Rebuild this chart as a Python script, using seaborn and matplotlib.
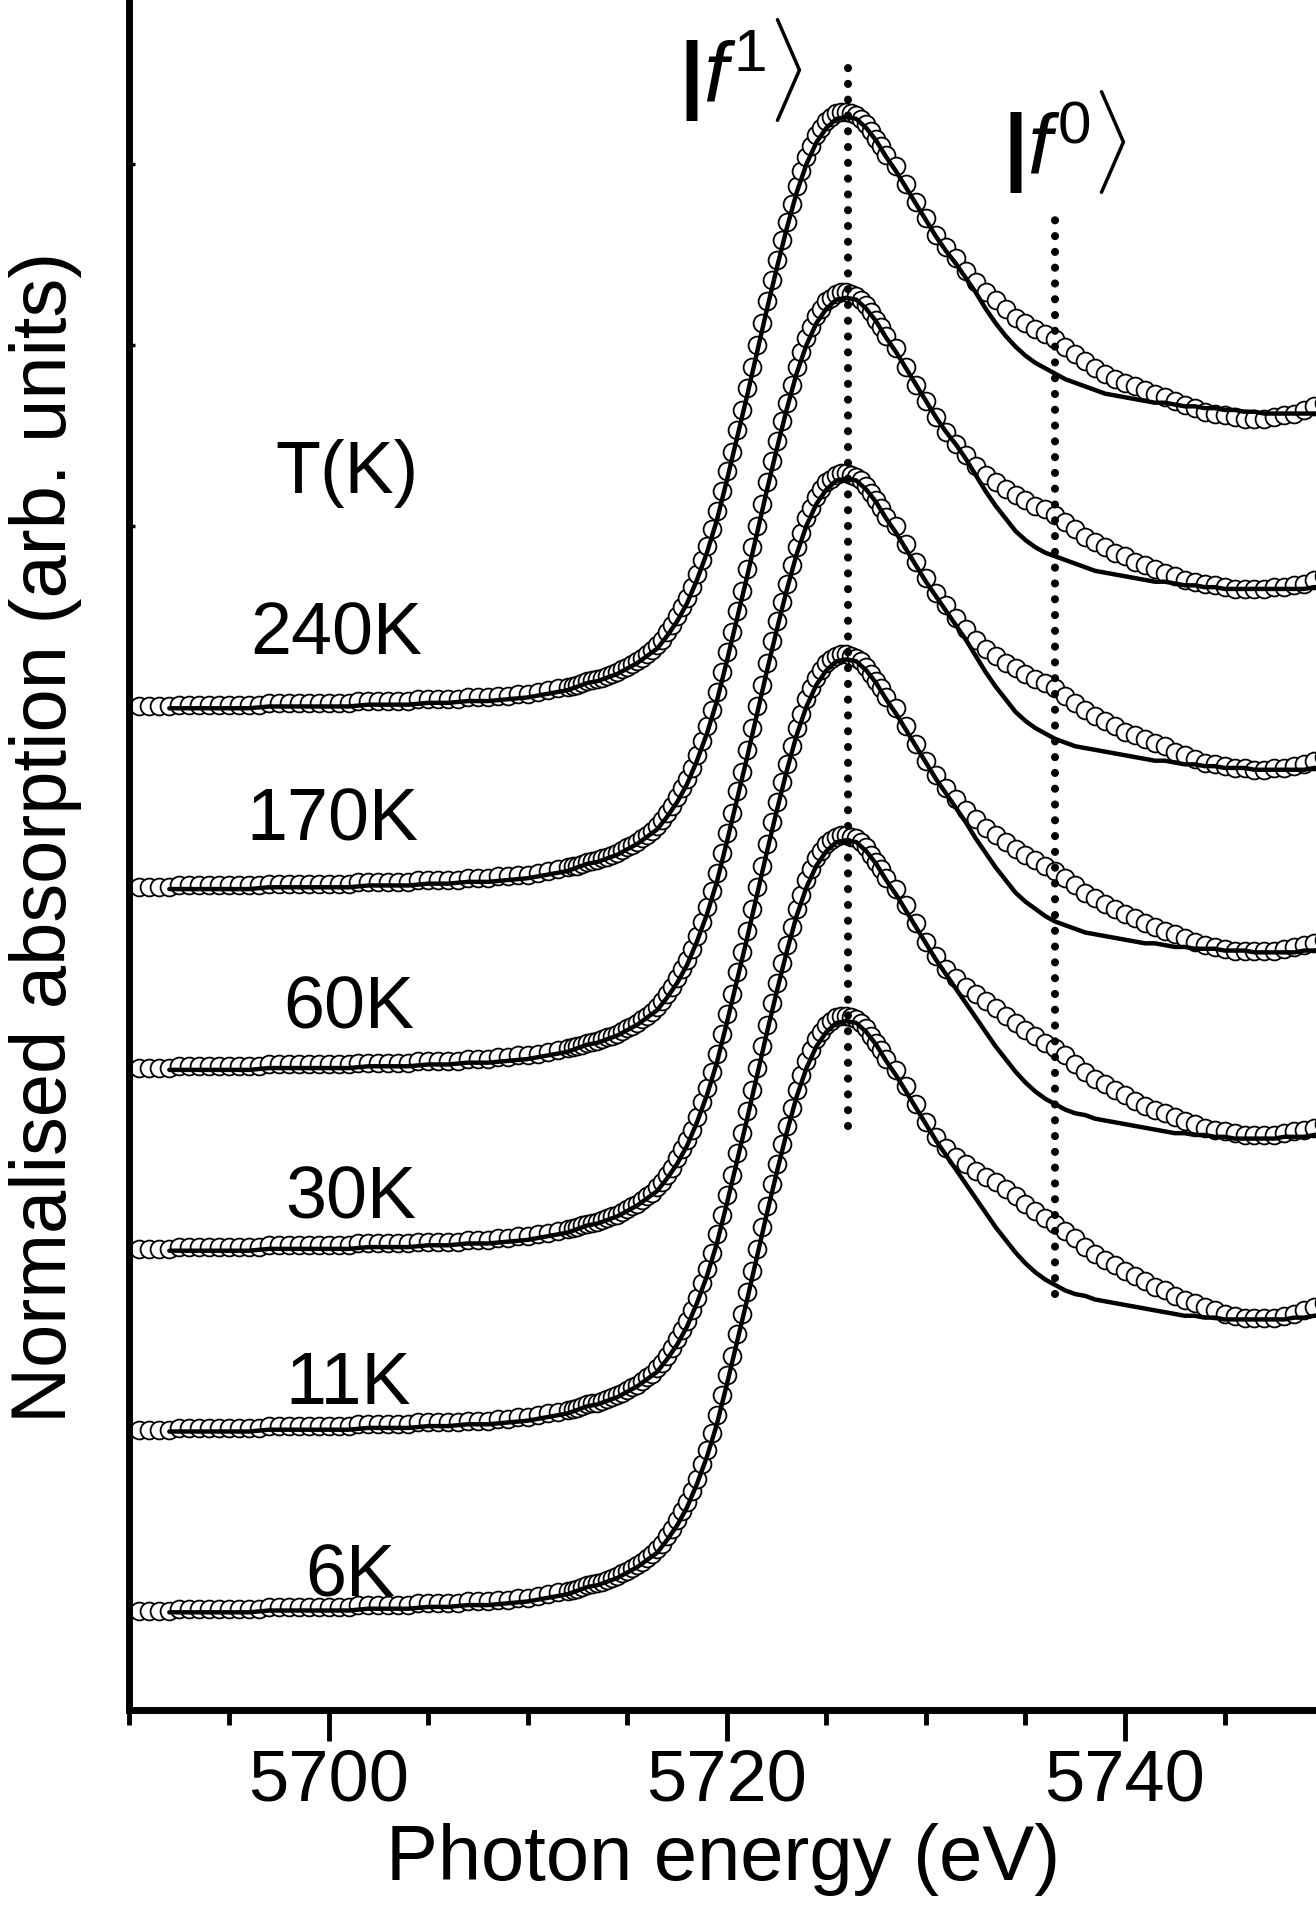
import numpy as np
import pandas as pd
import matplotlib
matplotlib.use("Agg")
import matplotlib.pyplot as plt
from matplotlib.ticker import MultipleLocator
import seaborn as sns

# --- values ----------------------------------------------------------------
temps = ["6K", "11K", "30K", "60K", "170K", "240K"]
offsets = [0, 1, 2, 3, 4, 5]
label_x = [5701.1, 5701.0, 5701.1, 5701.0, 5700.2, 5700.4]
label_y = [0.08, 1.14, 2.17, 3.22, 4.26, 5.29]

# energy grids (eV) of the measured points and of the fit lines
e_pre = np.arange(5690.5, 5712.01, 0.5)
e_edge = np.arange(5712.25, 5728.01, 0.25)
e_tail = np.arange(5728.5, 5750.01, 0.5)
ef_low = np.arange(5692.0, 5712.01, 1.0)
ef_edge = np.arange(5712.5, 5729.01, 0.5)
ef_tail = np.arange(5729.5, 5750.01, 0.5)

# measured absorption, pre-edge + edge (same for all temperatures)
pre_edge = [0.00, 0.00, 0.00, 0.00, 0.01, 0.01, 0.01, 0.01, 0.01, 0.01,
            0.01, 0.01, 0.01, 0.02, 0.02, 0.02, 0.02, 0.02, 0.02, 0.02,
            0.02, 0.02, 0.03, 0.03, 0.03, 0.03, 0.03, 0.03, 0.04, 0.04,
            0.04, 0.04, 0.04, 0.05, 0.05, 0.05, 0.06, 0.06, 0.07, 0.07,
            0.08, 0.09, 0.10, 0.11]
edge = [0.115, 0.12, 0.13, 0.14, 0.145, 0.15, 0.16, 0.17, 0.18, 0.19,
        0.205, 0.22, 0.235, 0.25, 0.27, 0.29, 0.31, 0.34, 0.37, 0.41,
        0.45, 0.50, 0.55, 0.60, 0.66, 0.73, 0.81, 0.89, 0.98, 1.08,
        1.19, 1.30, 1.41, 1.53, 1.64, 1.76, 1.88, 2.00, 2.12, 2.24,
        2.36, 2.47, 2.58, 2.68, 2.78, 2.88, 2.96, 3.04, 3.10, 3.16,
        3.20, 3.24, 3.26, 3.28, 3.29, 3.29, 3.28, 3.27, 3.25, 3.22,
        3.18, 3.14, 3.10, 3.05]

# measured absorption above the white line, one list per temperature
tail_6k = [2.99, 2.90, 2.80, 2.70, 2.62, 2.56, 2.51, 2.47, 2.43, 2.40,
           2.37, 2.33, 2.29, 2.25, 2.21, 2.17, 2.14, 2.10, 2.06, 2.01,
           1.97, 1.94, 1.91, 1.88, 1.85, 1.82, 1.79, 1.77, 1.74, 1.72,
           1.70, 1.68, 1.66, 1.64, 1.63, 1.62, 1.62, 1.62, 1.62, 1.63,
           1.64, 1.66, 1.68, 1.70]
tail_11k = [2.99, 2.90, 2.80, 2.70, 2.62, 2.55, 2.50, 2.45, 2.41, 2.37,
            2.33, 2.29, 2.25, 2.21, 2.18, 2.14, 2.11, 2.07, 2.02, 1.98,
            1.94, 1.91, 1.88, 1.85, 1.82, 1.79, 1.77, 1.75, 1.73, 1.71,
            1.69, 1.67, 1.66, 1.65, 1.64, 1.63, 1.63, 1.63, 1.63, 1.64,
            1.65, 1.66, 1.67, 1.69]
tail_30k = [2.99, 2.89, 2.79, 2.70, 2.62, 2.55, 2.49, 2.43, 2.38, 2.33,
            2.29, 2.25, 2.21, 2.18, 2.15, 2.12, 2.09, 2.05, 2.01, 1.97,
            1.94, 1.91, 1.88, 1.85, 1.83, 1.80, 1.78, 1.76, 1.74, 1.72,
            1.70, 1.68, 1.67, 1.66, 1.65, 1.65, 1.65, 1.65, 1.65, 1.66,
            1.67, 1.68, 1.69, 1.71]
tail_60k = [3.00, 2.90, 2.80, 2.71, 2.63, 2.56, 2.49, 2.43, 2.37, 2.32,
            2.28, 2.24, 2.21, 2.18, 2.15, 2.13, 2.10, 2.06, 2.02, 1.98,
            1.95, 1.92, 1.89, 1.86, 1.84, 1.82, 1.80, 1.78, 1.75, 1.73,
            1.71, 1.69, 1.68, 1.67, 1.66, 1.66, 1.65, 1.65, 1.66, 1.66,
            1.67, 1.68, 1.70, 1.72]
tail_170k = [2.98, 2.88, 2.78, 2.69, 2.60, 2.52, 2.45, 2.39, 2.33, 2.28,
             2.24, 2.20, 2.17, 2.14, 2.11, 2.09, 2.06, 2.02, 1.98, 1.94,
             1.91, 1.88, 1.85, 1.83, 1.80, 1.78, 1.76, 1.74, 1.72, 1.70,
             1.69, 1.68, 1.67, 1.66, 1.65, 1.65, 1.65, 1.65, 1.66, 1.66,
             1.67, 1.68, 1.70, 1.72]
tail_240k = [2.99, 2.89, 2.79, 2.70, 2.61, 2.54, 2.48, 2.41, 2.35, 2.29,
             2.25, 2.20, 2.15, 2.12, 2.09, 2.06, 2.03, 1.99, 1.95, 1.91,
             1.87, 1.84, 1.81, 1.79, 1.77, 1.75, 1.73, 1.71, 1.69, 1.67,
             1.65, 1.63, 1.62, 1.61, 1.60, 1.59, 1.59, 1.59, 1.60, 1.61,
             1.62, 1.64, 1.66, 1.68]

# fit (solid line), low-energy part shared by all temperatures
fit_low = [-0.01, -0.01, -0.01, -0.01, -0.01, 0.00, 0.00, 0.00, 0.00, 0.00,
           0.01, 0.01, 0.01, 0.02, 0.02, 0.03, 0.03, 0.04, 0.05, 0.07, 0.09]
fit_edge = [0.11, 0.13, 0.14, 0.16, 0.18, 0.21, 0.24, 0.28, 0.32, 0.39,
            0.47, 0.57, 0.70, 0.85, 1.03, 1.25, 1.48, 1.71, 1.95, 2.19,
            2.42, 2.64, 2.84, 3.00, 3.12, 3.20, 3.25, 3.26, 3.25, 3.20,
            3.13, 3.04, 2.96, 2.87]
fit_6k = [2.78, 2.69, 2.60, 2.52, 2.44, 2.36, 2.28, 2.20, 2.12, 2.05,
          1.98, 1.92, 1.87, 1.83, 1.80, 1.77, 1.75, 1.74, 1.72, 1.71,
          1.70, 1.69, 1.68, 1.67, 1.66, 1.65, 1.64, 1.63, 1.63, 1.62,
          1.62, 1.61, 1.61, 1.61, 1.61, 1.61, 1.61, 1.61, 1.62, 1.62,
          1.63, 1.64]
fit_11k = [2.78, 2.69, 2.60, 2.52, 2.44, 2.36, 2.28, 2.20, 2.12, 2.05,
           1.98, 1.92, 1.87, 1.83, 1.80, 1.77, 1.75, 1.74, 1.72, 1.71,
           1.70, 1.69, 1.68, 1.67, 1.66, 1.65, 1.64, 1.64, 1.63, 1.63,
           1.62, 1.62, 1.61, 1.61, 1.61, 1.61, 1.61, 1.62, 1.62, 1.62,
           1.63, 1.64]
fit_30k = [2.78, 2.69, 2.60, 2.52, 2.44, 2.36, 2.27, 2.19, 2.11, 2.04,
           1.97, 1.92, 1.88, 1.84, 1.81, 1.79, 1.77, 1.75, 1.74, 1.73,
           1.72, 1.71, 1.70, 1.69, 1.69, 1.68, 1.67, 1.67, 1.66, 1.66,
           1.66, 1.65, 1.65, 1.65, 1.64, 1.64, 1.64, 1.64, 1.64, 1.65,
           1.65, 1.66]
fit_60k = [2.78, 2.69, 2.61, 2.53, 2.45, 2.37, 2.28, 2.19, 2.11, 2.04,
           1.97, 1.92, 1.88, 1.85, 1.82, 1.80, 1.78, 1.77, 1.76, 1.75,
           1.74, 1.73, 1.72, 1.71, 1.70, 1.70, 1.69, 1.68, 1.68, 1.67,
           1.67, 1.66, 1.66, 1.66, 1.65, 1.65, 1.65, 1.65, 1.65, 1.65,
           1.66, 1.66]
fit_170k = [2.78, 2.69, 2.60, 2.52, 2.45, 2.37, 2.28, 2.19, 2.11, 2.04,
            1.97, 1.92, 1.88, 1.85, 1.83, 1.81, 1.79, 1.77, 1.75, 1.74,
            1.73, 1.72, 1.71, 1.70, 1.69, 1.69, 1.68, 1.67, 1.67, 1.66,
            1.66, 1.65, 1.65, 1.65, 1.65, 1.65, 1.65, 1.65, 1.65, 1.65,
            1.66, 1.66]
fit_240k = [2.78, 2.69, 2.60, 2.52, 2.45, 2.37, 2.29, 2.20, 2.12, 2.05,
            1.99, 1.94, 1.90, 1.87, 1.84, 1.81, 1.79, 1.77, 1.75, 1.73,
            1.72, 1.71, 1.70, 1.69, 1.68, 1.68, 1.67, 1.66, 1.66, 1.65,
            1.65, 1.64, 1.64, 1.63, 1.63, 1.62, 1.62, 1.62, 1.62, 1.62,
            1.62, 1.62]

data_tails = [tail_6k, tail_11k, tail_30k, tail_60k, tail_170k, tail_240k]
fit_tails = [fit_6k, fit_11k, fit_30k, fit_60k, fit_170k, fit_240k]

# f1 / f0 markers: energy and vertical extent of the dotted lines
ket_energy = [5726.1, 5736.5]
ket_low = [2.68, 1.75]
ket_high = [8.61, 7.70]
ket_text = [r"$\mathbf{|}\mathit{f}^{1}\rangle$", r"$\mathbf{|}\mathit{f}^{0}\rangle$"]
ket_text_x = [5720.7, 5737.0]
ket_text_y = [8.52, 8.12]

# --- build long tables ------------------------------------------------------
meas_parts, fit_parts = [], []
for t, off, dt, ft in zip(temps, offsets, data_tails, fit_tails):
    meas_parts.append(pd.DataFrame({
        "energy": np.concatenate([e_pre, e_edge, e_tail]),
        "absorption": np.concatenate([pre_edge, edge, dt]) + off,
        "T": t}))
    fit_parts.append(pd.DataFrame({
        "energy": np.concatenate([ef_low, ef_edge, ef_tail]),
        "absorption": np.concatenate([fit_low, fit_edge, ft]) + off,
        "T": t}))
meas = pd.concat(meas_parts, ignore_index=True)
fit = pd.concat(fit_parts, ignore_index=True)

# --- plot ---------------------------------------------------------------------
sns.set_theme(style="ticks")
plt.rcParams.update({
    "font.family": ["Liberation Sans", "DejaVu Sans"],
    "mathtext.fontset": "custom",
    "mathtext.rm": "Liberation Sans",
    "mathtext.it": "Liberation Sans:italic",
    "mathtext.bf": "Liberation Sans:bold",
    "text.color": "black",
    "axes.labelcolor": "black",
    "axes.edgecolor": "black",
    "xtick.color": "black",
    "ytick.color": "black",
})

fig = plt.figure(figsize=(13.16, 19.11), dpi=100)
ax = fig.add_axes([0.0984, 0.1052, 0.9078, 0.9225])

sns.scatterplot(data=meas, x="energy", y="absorption", marker="o", s=165,
                color="white", edgecolor="black", linewidth=1.3,
                legend=False, ax=ax, zorder=2)
sns.lineplot(data=fit, x="energy", y="absorption", units="T", estimator=None,
             sort=False, color="black", linewidth=3.2, legend=False, ax=ax,
             zorder=3)

for ke, lo, hi in zip(ket_energy, ket_low, ket_high):
    ax.plot([ke, ke], [lo, hi], color="black", linewidth=5.8,
            linestyle=(0, (0.01, 1.95)), dash_capstyle="round", zorder=4)
for tx, ty, s in zip(ket_text_x, ket_text_y, ket_text):
    ax.text(tx, ty, s, fontsize=62, ha="center", va="center")

ax.text(5700.9, 6.18, "T(K)", fontsize=53, ha="center", va="baseline")
for lx, ly, t in zip(label_x, label_y, temps):
    ax.text(lx, ly, t, fontsize=53, ha="center", va="baseline")

ax.set_xlim(5690, 5750)
ax.set_ylim(-0.55, 9.2)
ax.set_xticks([5700, 5720, 5740])
ax.xaxis.set_minor_locator(MultipleLocator(5))
ax.set_yticks(np.arange(0, 10))
ax.tick_params(axis="x", which="major", direction="out", length=22, width=3.5,
               labelsize=52, pad=6)
ax.tick_params(axis="x", which="minor", direction="out", length=11, width=3.5)
ax.tick_params(axis="y", which="major", direction="in", length=4, width=2.5,
               labelleft=False)

for side in ["left", "bottom"]:
    ax.spines[side].set_linewidth(5)
ax.spines["top"].set_visible(False)
ax.spines["right"].set_visible(False)

ax.set_xlabel("Photon energy (eV)", fontsize=56)
ax.set_ylabel("Normalised absorption (arb. units)", fontsize=56)
ax.xaxis.set_label_coords(0.4965, -0.0640)
ax.yaxis.label.set_verticalalignment("center")
ax.yaxis.set_label_coords(-0.0702, 0.4947)

fig.savefig("out.png", dpi=100)
